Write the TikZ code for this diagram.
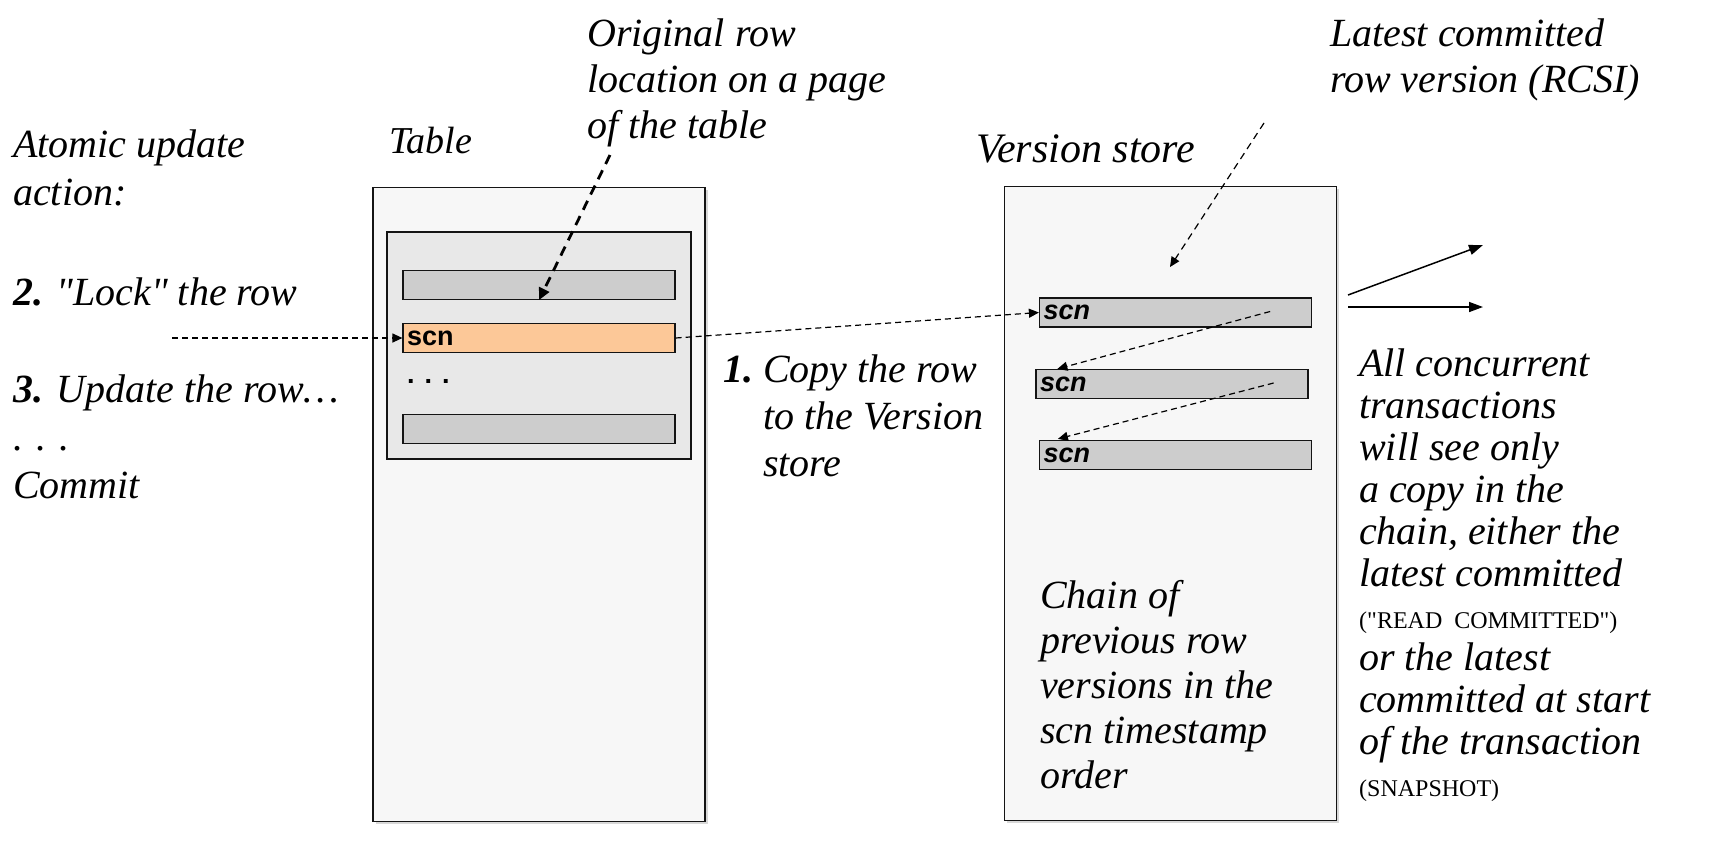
\documentclass[tikz,border=0pt]{standalone}
\usepackage{fontspec}
\setmainfont{Liberation Serif}[Ligatures=TeXOff]
\setsansfont{Liberation Sans}
\usetikzlibrary{positioning,arrows.meta,shadows,calc}
\definecolor{ink}{RGB}{20,20,20}
\definecolor{pagebg}{RGB}{247,247,247}
\definecolor{pagein}{RGB}{232,232,232}
\definecolor{rowgr}{RGB}{205,205,205}
\definecolor{roworg}{RGB}{252,200,152}
\newcommand{\fNote}{\fontsize{40}{46}\selectfont\itshape}
\newcommand{\fSide}{\fontsize{40}{42}\selectfont\itshape}
\newcommand{\fCaps}{\fontsize{24}{42}\selectfont\upshape}
\newcommand{\fScn}{\fontsize{27}{30}\selectfont\sffamily\bfseries}

\begin{document}
\begin{tikzpicture}[x=1pt,y=-1pt,
  store/.style={draw=ink,line width=1.6pt,fill=pagebg,minimum width=332pt,minimum height=634pt,inner sep=0pt,drop shadow={shadow xshift=2.5pt,shadow yshift=-2.5pt,fill=black!30}},
  page/.style={draw=ink,line width=1.2pt,fill=pagein,minimum width=304pt,minimum height=227pt,inner sep=0pt},
  rowbox/.style={draw=ink,line width=1.2pt,fill=rowgr,text width=264pt,inner xsep=4pt,inner ysep=0pt,minimum height=29pt,align=left,font=\fScn},
  note/.style={anchor=north west,inner sep=0pt,align=left,font=\fNote},
  link/.style={-{Triangle[length=10pt,width=9pt]},line width=1.2pt,dash pattern=on 6pt off 4pt},
  see/.style={-{Triangle[length=14pt,width=10pt]},line width=1.5pt}]
  \useasboundingbox (0,0) rectangle (1726,844);

  % the table and its page
  \node[store] (tbl) at (539,504.5) {};
  \node[page] (tpage) at (539,345.5) {};
  \node[rowbox] (trow1) at (539,285) {};
  \node[rowbox,fill=roworg] (tscn) at (539,338) {scn};
  \node[anchor=west,inner sep=0pt,font=\fScn] (tdots) at (407,381) {. . .};
  \node[rowbox] (trow3) at (539,429) {};

  % the version store
  \node[store] (vstore) at (1170.5,503.5) {};
  \node[rowbox,font=\fScn\itshape] (vrow1) at (1175.5,312.5) {scn};
  \node[rowbox,font=\fScn\itshape] (vrow2) at (1172,384) {scn};
  \node[rowbox,font=\fScn\itshape] (vrow3) at (1175.5,455) {scn};

  % texts
  \node[note,font=\fontsize{40}{48}\selectfont\itshape] (atomic) at (13,130) {Atomic update\\action:};
  \node[note] (lock) at (13,278) {\textbf{2.} "Lock" the row};
  \node[note,font=\fontsize{40}{48}\selectfont\itshape] (upd) at (13,375) {\textbf{3.} Update the row…\\. . .\\Commit};
  \node[note,font=\fontsize{38}{46}\selectfont\itshape] (tbllbl) at (389,127) {Table};
  \node[note] (orig) at (587,19) {Original row\\location on a page\\of the table};
  \node[note,font=\fontsize{40}{47}\selectfont\itshape] (copy) at (723,355)
    {\textbf{1.}~Copy the row\\\hphantom{\textbf{1.}~}to the Version\\\hphantom{\textbf{1.}~}store};
  \node[note,font=\fontsize{42}{46}\selectfont\itshape] (vslbl) at (976,134) {Version store};
  \node[note] (latest) at (1330,19) {Latest committed\\row version (RCSI)};
  \node[note,font=\fontsize{40}{45}\selectfont\itshape] (chain) at (1040,580) {Chain of\\previous row\\versions in the\\scn timestamp\\order};
  \node[note,font=\fSide] (conc) at (1359,349)
    {All concurrent\\transactions\\will see only\\a copy in the\\chain, either the\\latest committed\\{\fCaps("READ~~COMMITTED")}\\or the latest\\committed at start\\of the transaction\\{\fCaps(SNAPSHOT)}};

  % free ends
  \coordinate (lockin) at (172,338);
  \coordinate (origtail) at (610,155);
  \coordinate (latesttail) at (1264,123);
  \coordinate (latesthead) at (1170,267);
  \coordinate (out1) at (1348,295);
  \coordinate (out2) at (1348,307);
  \coordinate (see1) at (1483,245);
  \coordinate (see2) at (1483,307);

  % connectors
  \draw[link] (lockin) -- (tscn.west);
  \draw[link,line width=2.8pt,dash pattern=on 10pt off 7pt,-{Triangle[length=12pt,width=11pt]}] (origtail) -- (trow1.south);
  \draw[link] (tscn.east) -- (vrow1.west);
  \draw[link,dash pattern=on 7pt off 5pt] (latesttail) -- (latesthead);
  \draw[link] ($(vrow1.east)+(-42,-1)$) -- ($(vrow2.north west)+(22,0)$);
  \draw[link] ($(vrow2.east)+(-35,-1)$) -- ($(vrow3.north west)+(19,-1)$);
  \draw[see] (out1) -- (see1);
  \draw[see] (out2) -- (see2);
\end{tikzpicture}
\end{document}
